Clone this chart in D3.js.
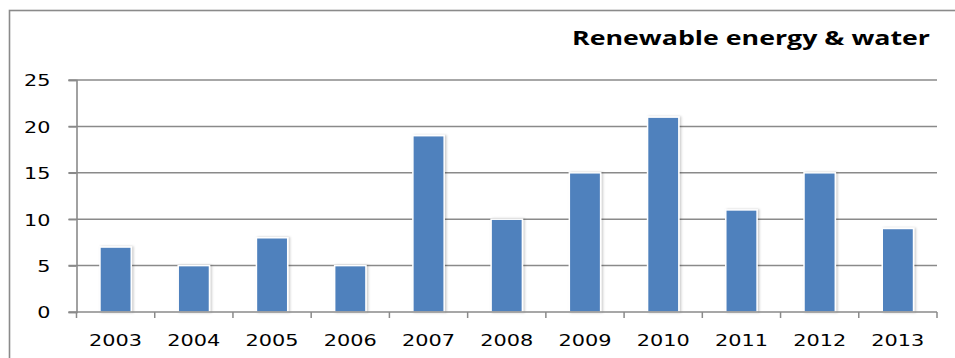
<!DOCTYPE html>
<html>
<head>
<meta charset="utf-8">
<script src="https://cdn.jsdelivr.net/npm/d3@7/dist/d3.min.js"></script>
<style>
  html, body { margin: 0; padding: 0; background: #fff; }
  svg { display: block; }
</style>
</head>
<body>
<svg id="chart" width="955" height="358"></svg>
<script>
// Projects per year in the renewable energy & water sector
const years = ["2003", "2004", "2005", "2006", "2007", "2008", "2009", "2010", "2011", "2012", "2013"];
const projects = [7, 5, 8, 5, 19, 10, 15, 21, 11, 15, 9];
const yTicks = [0, 5, 10, 15, 20, 25];
const chartTitle = "Renewable energy & water";

const svg = d3.select("#chart");
const W = 955, H = 358;
const plot = { left: 76.5, right: 937, top: 80, bottom: 312 };

const x = d3.scaleBand().domain(years).range([plot.left, plot.right]).padding(0);
const y = d3.scaleLinear().domain([0, 25]).range([plot.bottom, plot.top]);
const barW = x.step() * 0.4;

const defs = svg.append("defs");
const shadow = defs.append("filter").attr("id", "barShadow")
  .attr("x", "-30%").attr("y", "-10%").attr("width", "160%").attr("height", "120%");
shadow.append("feDropShadow").attr("dx", 1.5).attr("dy", 0).attr("stdDeviation", 1.2)
  .attr("flood-color", "#000").attr("flood-opacity", 0.22);

// Outer chart frame
svg.append("rect")
  .attr("x", 9.5).attr("y", 10.5)
  .attr("width", W + 20).attr("height", H + 20)
  .attr("fill", "none").attr("stroke", "#8a8a8a").attr("stroke-width", 1.6);

// Title
svg.append("text")
  .attr("x", 930).attr("y", 45)
  .attr("text-anchor", "end")
  .attr("font-family", "'Open Sans', sans-serif")
  .attr("font-weight", 700)
  .attr("font-size", 20)
  .attr("textLength", 358).attr("lengthAdjust", "spacingAndGlyphs")
  .attr("fill", "#000")
  .text(chartTitle);

// Horizontal gridlines
svg.append("g").selectAll("line")
  .data(yTicks.filter(d => d > 0))
  .join("line")
  .attr("x1", plot.left - 8).attr("x2", plot.right)
  .attr("y1", d => y(d)).attr("y2", d => y(d))
  .attr("stroke", "#8a8a8a").attr("stroke-width", 1.5);

// Y axis
const yAxis = svg.append("g")
  .attr("transform", `translate(${plot.left},0)`)
  .call(d3.axisLeft(y).tickValues(yTicks).tickSize(8).tickPadding(0).tickFormat(d3.format("d")));
yAxis.select(".domain").attr("stroke", "#8a8a8a").attr("stroke-width", 1.6);
yAxis.selectAll(".tick line").attr("stroke", "#8a8a8a").attr("stroke-width", 1.5);
yAxis.selectAll(".tick text")
  .attr("x", -26).attr("dy", "0.36em")
  .attr("font-family", "'DejaVu Sans', sans-serif")
  .attr("font-size", 16.5)
  .attr("fill", "#000")
  .each(function() {
    const t = d3.select(this);
    t.attr("textLength", t.text().length * 13.2).attr("lengthAdjust", "spacingAndGlyphs");
  });

// Bars
svg.append("g").selectAll("rect")
  .data(years.map((yr, i) => ({ yr, v: projects[i] })))
  .join("rect")
  .attr("x", d => x(d.yr) + (x.step() - barW) / 2)
  .attr("y", d => y(d.v))
  .attr("width", barW)
  .attr("height", d => plot.bottom - y(d.v))
  .attr("fill", "#4f81bd")
  .attr("stroke", "#ffffff").attr("stroke-width", 1.5)
  .attr("filter", "url(#barShadow)");

// X axis with ticks at category boundaries
const xg = svg.append("g").attr("transform", `translate(0,${plot.bottom})`);
xg.append("line")
  .attr("x1", plot.left - 8).attr("x2", plot.right)
  .attr("stroke", "#8a8a8a").attr("stroke-width", 1.6);
xg.selectAll("line.tick")
  .data(d3.range(years.length + 1))
  .join("line").attr("class", "tick")
  .attr("x1", i => plot.left + i * x.step()).attr("x2", i => plot.left + i * x.step())
  .attr("y1", 0).attr("y2", 6)
  .attr("stroke", "#8a8a8a").attr("stroke-width", 1.5);
xg.selectAll("text")
  .data(years)
  .join("text")
  .attr("x", d => x(d) + x.step() / 2)
  .attr("y", 34)
  .attr("text-anchor", "middle")
  .attr("font-family", "'DejaVu Sans', sans-serif")
  .attr("font-size", 16.5)
  .attr("textLength", 53).attr("lengthAdjust", "spacingAndGlyphs")
  .attr("fill", "#000")
  .text(d => d);
</script>
</body>
</html>
